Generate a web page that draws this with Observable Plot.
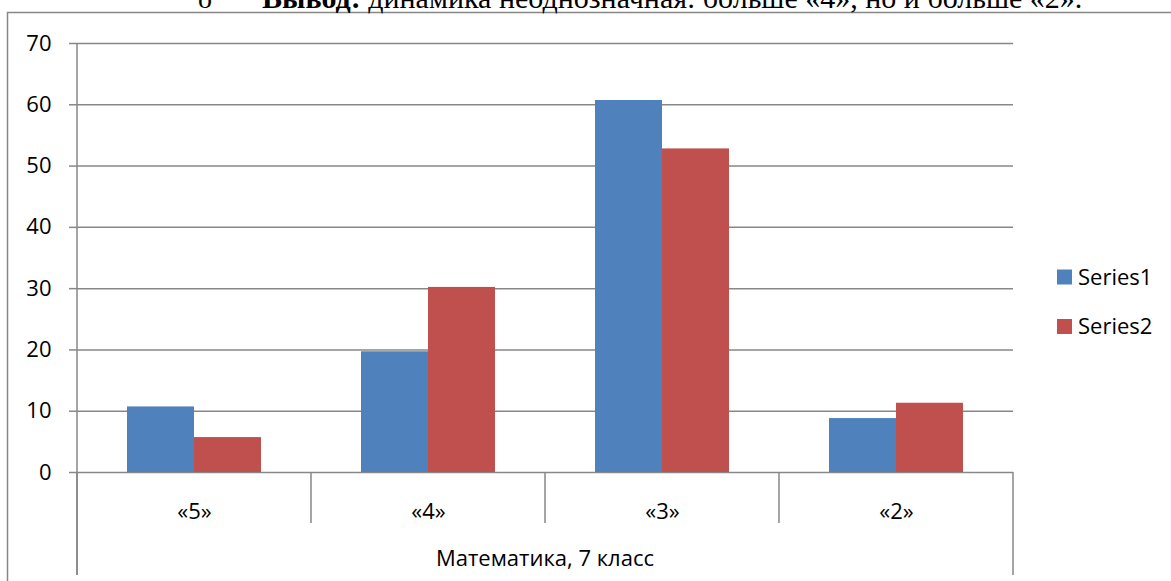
<!DOCTYPE html>
<html><head><meta charset="utf-8">
<script src="https://cdn.jsdelivr.net/npm/d3@7"></script>
<script src="https://cdn.jsdelivr.net/npm/@observablehq/plot@0.6"></script>
<style>
body{margin:0;background:#fff;}
#chart{position:relative;width:1171px;height:581px;overflow:hidden;}
</style>
</head><body><div id="chart"></div>
<script>
const categories = ["«5»", "«4»", "«3»", "«2»"];
const seriesNames = ["Series1", "Series2"];
const series1 = [10.7, 19.7, 60.7, 8.8];
const series2 = [5.7, 30.2, 52.8, 11.3];
const yTicks = [0, 10, 20, 30, 40, 50, 60, 70];
const axisTitle = "Математика, 7 класс";
const headingBold = "Вывод:";
const headingRest = " динамика неоднозначная: больше «4», но и больше «2».";
const colors = ["#4F81BD", "#C0504D"];

const data = categories.flatMap((c, i) => [
  {category: c, series: seriesNames[0], value: series1[i]},
  {category: c, series: seriesNames[1], value: series2[i]}
]);

const FONT = "'Open Sans', sans-serif";
const GRAY = "#878787";

const plot = Plot.plot({
  width: 1171,
  height: 581,
  marginLeft: 76,
  marginRight: 158,
  marginTop: 43,
  marginBottom: 109,
  style: {fontFamily: FONT, fontSize: "22px", color: "#000", background: "#fff", overflow: "visible"},
  fx: {domain: categories, paddingInner: 0, paddingOuter: 0, label: null},
  x: {domain: seriesNames, paddingInner: 0, paddingOuter: 0.746, axis: null},
  y: {domain: [0, 70], label: null},
  color: {domain: seriesNames, range: colors},
  marks: [
    Plot.ruleY(yTicks, {stroke: GRAY, strokeWidth: 1.5}),
    Plot.barY(data, {fx: "category", x: "series", y: "value", fill: "series"}),
    Plot.axisY({ticks: yTicks, tickSize: 8, tickPadding: 18, fontSize: 22, stroke: GRAY, strokeWidth: 1.5, fill: "#000", label: null}),
    Plot.axisFx({anchor: "bottom", tickSize: 0, tickPadding: 31, fontSize: 22, fill: "#000", label: null})
  ]
});

const svg = d3.select(plot);
const fx = plot.scale("fx");
const y = plot.scale("y");
const y0 = y.apply(0);
const yTop = y.apply(70);
const bw = fx.bandwidth;
const edges = categories.map(c => fx.apply(c));
edges.push(fx.apply(categories[categories.length - 1]) + bw);
const left = edges[0], right = edges[edges.length - 1];

const g = svg.append("g").attr("stroke", GRAY).attr("stroke-width", 1.5).attr("fill", "none");
// chart border
g.append("rect").attr("x", 7.5).attr("y", 12.5).attr("width", 1300).attr("height", 700);
// y axis line
g.append("line").attr("x1", left).attr("x2", left).attr("y1", yTop).attr("y2", 575);
// category dividers
edges.forEach((e, i) => {
  const outer = i === 0 || i === edges.length - 1;
  g.append("line").attr("x1", e).attr("x2", e).attr("y1", y0).attr("y2", outer ? 575 : 523);
});

// axis title
svg.append("text").attr("x", (left + right) / 2).attr("y", 566)
  .attr("text-anchor", "middle").attr("font-size", 22).attr("font-family", FONT)
  .attr("fill", "#000").text(axisTitle);

// legend
const leg = svg.append("g").attr("font-family", FONT).attr("font-size", 22).attr("text-anchor", "start");
seriesNames.forEach((s, i) => {
  const cy = 277 + i * 49.5;
  leg.append("rect").attr("x", 1057).attr("y", cy - 7.5).attr("width", 15).attr("height", 15).attr("fill", colors[i]);
  leg.append("text").attr("x", 1078).attr("y", cy).attr("dy", "0.36em").attr("fill", "#000").text(s);
});

// cut-off document line above the chart
const hg = svg.append("g").attr("text-anchor", "start").attr("fill", "#000");
hg.append("text").attr("x", 198).attr("y", 8).attr("font-family", "'Liberation Serif', 'Times New Roman', serif").attr("font-size", 28).text("o");
const head = hg.append("text").attr("x", 262).attr("y", 8)
  .attr("font-family", "'Liberation Serif', 'Times New Roman', serif").attr("font-size", 30);
head.append("tspan").attr("font-weight", "bold").text(headingBold);
head.append("tspan").text(headingRest);

document.getElementById("chart").appendChild(plot);
</script>
</body></html>
